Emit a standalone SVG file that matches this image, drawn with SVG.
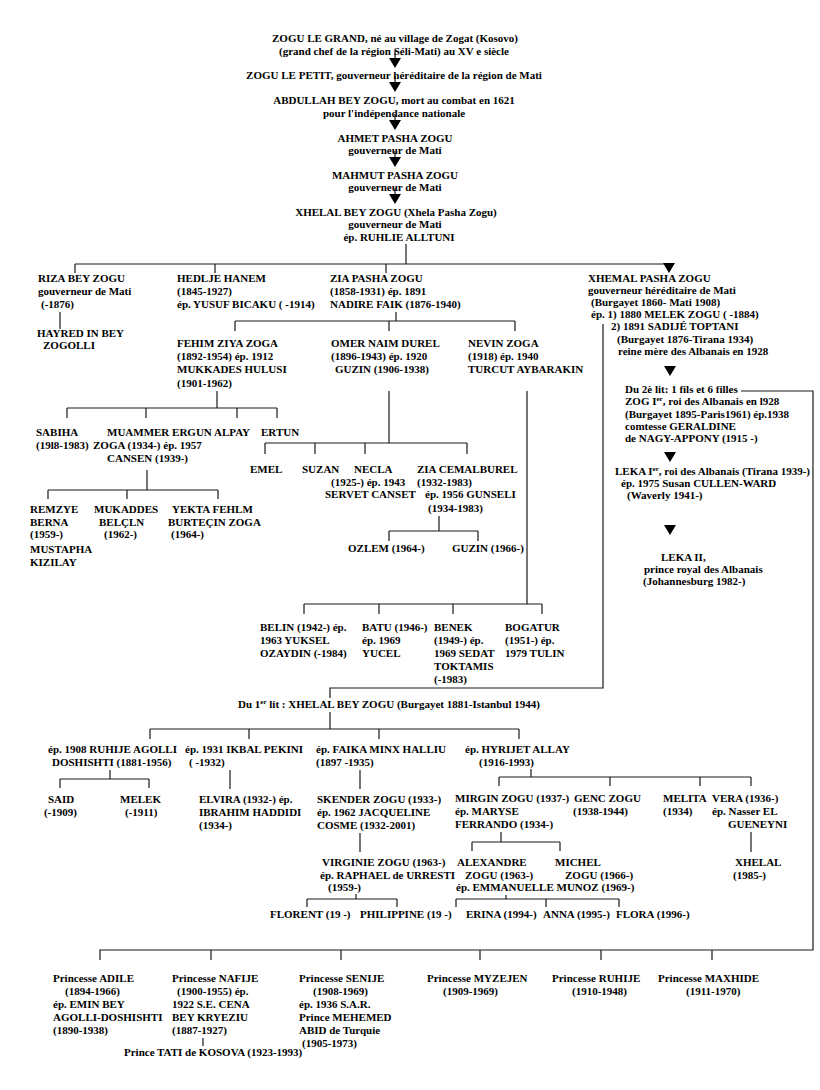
<svg xmlns="http://www.w3.org/2000/svg" width="820" height="1090" viewBox="0 0 820 1090" xml:space="preserve">
<style>
.t{font-family:"Liberation Serif","Times New Roman",serif;font-weight:bold;font-size:11px;fill:#000;white-space:pre}
.m{text-anchor:middle}
.c{stroke:#1a1a1a;stroke-width:1.2;fill:none}
.sup{font-size:7px}
</style>
<defs>
<path id="tri" d="M-6,0 L6,0 L0,10 Z" fill="#000" stroke="none"/>
</defs>
<rect width="820" height="1090" fill="#fff"/>
<g id="connectors" class="c">
<path d="M395,51 V58 M395,76 V82 M395,114 V120 M395,151 V157 M395,188 V194"/>
<use href="#tri" x="395" y="58"/>
<use href="#tri" x="395" y="82"/>
<use href="#tri" x="395" y="120"/>
<use href="#tri" x="395" y="157"/>
<use href="#tri" x="395" y="194"/>
<path d="M406,244 V264 M75,264 H669 M75,264 V273 M215,264 V273 M386,264 V273"/>
<use href="#tri" x="669" y="263"/>
<path d="M60,312 V329"/>
<path d="M396,312 V321 M235,321 H515 M235,321 V331 M389,321 V331 M515,321 V331"/>
<path d="M217,391 V408 M67,408 H277 M67,408 V418 M146,408 V418 M237,408 V418 M277,408 V418"/>
<path d="M147,470 V490 M48,490 H218 M48,490 V499 M127,490 V499 M218,490 V499"/>
<path d="M389,391 V443 M265,443 H467 M265,443 V454 M315,443 V454 M365,443 V454 M467,443 V454"/>
<path d="M439,516 V531 M389,531 H478 M389,531 V541 M478,531 V541"/>
<path d="M527,391 V604 M304,604 H542 M304,604 V614 M379,604 V614 M453,604 V614 M542,604 V614"/>
<path d="M603,324 V688 H330 V698"/>
<use href="#tri" x="670" y="366"/>
<use href="#tri" x="670" y="452"/>
<use href="#tri" x="670" y="525"/>
<path d="M741,391 H813 V950 H100 V960 M211,950 V960 M341,950 V960 M480,950 V960 M601,950 V960 M712,950 V960"/>
<path d="M330,712 V729 M150,729 H519 M150,729 V739 M249,729 V739 M379,729 V739 M519,729 V739"/>
<path d="M110,770 V779 M60,779 H149 M60,779 V788 M149,779 V788"/>
<path d="M230,770 V789"/>
<path d="M360,770 V789"/>
<path d="M531,769 V777 M499,777 H751 M499,777 V786 M610,777 V786 M700,777 V786 M751,777 V786"/>
<path d="M360,833 V852"/>
<path d="M501,832 V842 M472,842 H560 M472,842 V851 M560,842 V851"/>
<path d="M751,832 V852"/>
<path d="M356,894 V899 M307,899 H397 M307,899 V907 M397,899 V907"/>
<path d="M506,895 V899 M456,899 H619 M456,899 V907 M546,899 V907 M619,899 V907"/>
<path d="M203,1038 V1046"/>
</g>
<g id="n-zogu-grand" class="t m">
<text x="395" y="42">ZOGU LE GRAND, né au village de Zogat (Kosovo)</text>
<text x="394" y="55">(grand chef de la région Séli-Mati) au XV e siècle</text>
</g>
<g id="n-zogu-petit" class="t m"><text x="394" y="79">ZOGU LE PETIT, gouverneur héréditaire de la région de Mati</text></g>
<g id="n-abdullah" class="t m">
<text x="394" y="104">ABDULLAH BEY ZOGU, mort au combat en 1621</text>
<text x="394" y="117">pour l'indépendance nationale</text>
</g>
<g id="n-ahmet" class="t m">
<text x="395" y="142">AHMET PASHA ZOGU</text>
<text x="395" y="154">gouverneur de Mati</text>
</g>
<g id="n-mahmut" class="t m">
<text x="395" y="179">MAHMUT PASHA ZOGU</text>
<text x="395" y="191">gouverneur de Mati</text>
</g>
<g id="n-xhelal-pasha" class="t m">
<text x="396" y="216">XHELAL BEY ZOGU (Xhela Pasha Zogu)</text>
<text x="395" y="228">gouverneur de Mati</text>
<text x="399" y="241">ép. RUHLIE ALLTUNI</text>
</g>
<g id="n-riza" class="t">
<text x="38" y="282">RIZA BEY ZOGU</text>
<text x="38" y="295">gouverneur de Mati</text>
<text x="41" y="308">(-1876)</text>
</g>
<g id="n-hayredin" class="t">
<text x="37" y="337">HAYRED IN BEY</text>
<text x="43" y="349">ZOGOLLI</text>
</g>
<g id="n-hedlje" class="t">
<text x="177" y="282">HEDLJE HANEM</text>
<text x="177" y="295">(1845-1927)</text>
<text x="177" y="308">ép. YUSUF BICAKU ( -1914)</text>
</g>
<g id="n-zia-pasha" class="t">
<text x="330" y="282">ZIA PASHA ZOGU</text>
<text x="330" y="295">(1858-1931) ép. 1891</text>
<text x="330" y="308">NADIRE FAIK (1876-1940)</text>
</g>
<g id="n-xhemal" class="t">
<text x="588" y="282">XHEMAL PASHA ZOGU</text>
<text x="588" y="294">gouverneur héréditaire de Mati</text>
<text x="591" y="306">(Burgayet 1860- Mati 1908)</text>
<text x="591" y="318">ép. 1) 1880 MELEK ZOGU ( -1884)</text>
<text x="611" y="330">2) 1891 SADIJÉ TOPTANI</text>
<text x="617" y="343">(Burgayet 1876-Tirana 1934)</text>
<text x="618" y="355">reine mère des Albanais en 1928</text>
</g>
<g id="n-du-2e-lit" class="t"><text x="625" y="393">Du 2è lit: 1 fils et 6 filles</text></g>
<g id="n-zog" class="t">
<text x="625" y="405">ZOG I<tspan class="sup" dy="-4">er</tspan><tspan dy="4">,  roi des Albanais en l928</tspan></text>
<text x="625" y="418">(Burgayet 1895-Paris1961) ép.1938</text>
<text x="625" y="430">comtesse GERALDINE</text>
<text x="625" y="442">de NAGY-APPONY  (1915 -)</text>
</g>
<g id="n-leka1" class="t">
<text x="615" y="475">LEKA I<tspan class="sup" dy="-4">er</tspan><tspan dy="4">, roi des Albanais (Tirana 1939-)</tspan></text>
<text x="621" y="487">ép. 1975  Susan CULLEN-WARD</text>
<text x="627" y="499">(Waverly 1941-)</text>
</g>
<g id="n-leka2" class="t">
<text x="661" y="561">LEKA II,</text>
<text x="644" y="573">prince royal des Albanais</text>
<text x="643" y="585">(Johannesburg 1982-)</text>
</g>
<g id="n-fehim" class="t">
<text x="177" y="347">FEHIM ZIYA ZOGA</text>
<text x="177" y="360">(1892-1954) ép. 1912</text>
<text x="177" y="373">MUKKADES HULUSI</text>
<text x="177" y="387">(1901-1962)</text>
</g>
<g id="n-omer" class="t">
<text x="331" y="347">OMER NAIM DUREL</text>
<text x="331" y="360">(1896-1943) ép. 1920</text>
<text x="335" y="373">GUZIN (1906-1938)</text>
</g>
<g id="n-nevin" class="t">
<text x="468" y="347">NEVIN ZOGA</text>
<text x="468" y="360">(1918) ép. 1940</text>
<text x="468" y="373">TURCUT AYBARAKIN</text>
</g>
<g id="n-sabiha" class="t">
<text x="36" y="436">SABIHA</text>
<text x="36" y="449">(19l8-1983)</text>
</g>
<g id="n-muammer" class="t">
<text x="107" y="436">MUAMMER ERGUN</text>
<text x="93" y="449">ZOGA (1934-) ép. 1957</text>
<text x="107" y="462">CANSEN (1939-)</text>
</g>
<g id="n-alpay" class="t"><text x="214" y="436">ALPAY</text></g>
<g id="n-ertun" class="t"><text x="261" y="436">ERTUN</text></g>
<g id="n-remzye" class="t">
<text x="30" y="513">REMZYE</text>
<text x="30" y="526">BERNA</text>
<text x="30" y="538">(1959-)</text>
<text x="30" y="553">MUSTAPHA</text>
<text x="30" y="566">KIZILAY</text>
</g>
<g id="n-mukaddes" class="t">
<text x="94" y="513">MUKADDES</text>
<text x="99" y="526">BELÇLN</text>
<text x="104" y="538">(1962-)</text>
</g>
<g id="n-yekta" class="t">
<text x="172" y="513">YEKTA FEHLM</text>
<text x="168" y="526">BURTEÇIN ZOGA</text>
<text x="171" y="538">(1964-)</text>
</g>
<g id="n-emel" class="t"><text x="250" y="473">EMEL</text></g>
<g id="n-suzan" class="t"><text x="302" y="473">SUZAN</text></g>
<g id="n-necla" class="t">
<text x="354" y="473">NECLA</text>
<text x="331" y="486">(1925-) ép. 1943</text>
<text x="325" y="498">SERVET CANSET</text>
</g>
<g id="n-zia-cemal" class="t">
<text x="417" y="473">ZIA CEMALBUREL</text>
<text x="417" y="486">(1932-1983)</text>
<text x="425" y="498">ép. 1956 GUNSELI</text>
<text x="428" y="512">(1934-1983)</text>
</g>
<g id="n-ozlem" class="t"><text x="348" y="552">OZLEM (1964-)</text></g>
<g id="n-guzin" class="t"><text x="452" y="552">GUZIN (1966-)</text></g>
<g id="n-belin" class="t">
<text x="260" y="631">BELIN (1942-) ép.</text>
<text x="260" y="644">1963 YUKSEL</text>
<text x="260" y="657">OZAYDIN (-1984)</text>
</g>
<g id="n-batu" class="t">
<text x="362" y="631">BATU (1946-)</text>
<text x="362" y="644">ép. 1969</text>
<text x="362" y="657">YUCEL</text>
</g>
<g id="n-benek" class="t">
<text x="434" y="631">BENEK</text>
<text x="434" y="644">(1949-) ép.</text>
<text x="434" y="657">1969 SEDAT</text>
<text x="434" y="670">TOKTAMIS</text>
<text x="434" y="683">(-1983)</text>
</g>
<g id="n-bogatur" class="t">
<text x="505" y="631">BOGATUR</text>
<text x="505" y="644">(1951-) ép.</text>
<text x="505" y="657">1979 TULIN</text>
</g>
<g id="n-du-1er-lit" class="t"><text x="238" y="708">Du 1<tspan class="sup" dy="-4">er</tspan><tspan dy="4"> lit : XHELAL BEY ZOGU (Burgayet 1881-Istanbul 1944)</tspan></text></g>
<g id="n-ruhije-agolli" class="t">
<text x="48" y="753">ép. 1908 RUHIJE AGOLLI</text>
<text x="52" y="766">DOSHISHTI (1881-1956)</text>
</g>
<g id="n-ikbal" class="t">
<text x="185" y="753">ép. 1931 IKBAL PEKINI</text>
<text x="189" y="766">( -1932)</text>
</g>
<g id="n-faika" class="t">
<text x="316" y="753">ép. FAIKA MINX HALLIU</text>
<text x="316" y="766">(1897 -1935)</text>
</g>
<g id="n-hyrijet" class="t">
<text x="465" y="753">ép. HYRIJET ALLAY</text>
<text x="479" y="766">(1916-1993)</text>
</g>
<g id="n-said" class="t">
<text x="48" y="803">SAID</text>
<text x="44" y="816">(-1909)</text>
</g>
<g id="n-melek" class="t">
<text x="120" y="803">MELEK</text>
<text x="125" y="816">(-1911)</text>
</g>
<g id="n-elvira" class="t">
<text x="199" y="803">ELVIRA (1932-) ép.</text>
<text x="199" y="816">IBRAHIM HADDIDI</text>
<text x="199" y="829">(1934-)</text>
</g>
<g id="n-skender" class="t">
<text x="317" y="803">SKENDER ZOGU (1933-)</text>
<text x="317" y="816">ép. 1962 JACQUELINE</text>
<text x="317" y="829">COSME (1932-2001)</text>
</g>
<g id="n-mirgin" class="t">
<text x="455" y="802">MIRGIN ZOGU (1937-)</text>
<text x="455" y="815">ép. MARYSE</text>
<text x="455" y="828">FERRANDO (1934-)</text>
</g>
<g id="n-genc" class="t">
<text x="574" y="802">GENC ZOGU</text>
<text x="573" y="815">(1938-1944)</text>
</g>
<g id="n-melita" class="t">
<text x="663" y="802">MELITA</text>
<text x="663" y="815">(1934)</text>
</g>
<g id="n-vera" class="t">
<text x="712" y="802">VERA (1936-)</text>
<text x="712" y="815">ép. Nasser EL</text>
<text x="728" y="828">GUENEYNI</text>
</g>
<g id="n-xhelal-1985" class="t">
<text x="735" y="866">XHELAL</text>
<text x="733" y="879">(1985-)</text>
</g>
<g id="n-virginie" class="t">
<text x="322" y="866">VIRGINIE ZOGU (1963-)</text>
<text x="320" y="879">ép. RAPHAEL de URRESTI</text>
<text x="328" y="891">(1959-)</text>
</g>
<g id="n-alexandre" class="t">
<text x="457" y="866">ALEXANDRE</text>
<text x="465" y="879">ZOGU (1963-)</text>
<text x="456" y="891">ép. EMMANUELLE MUNOZ (1969-)</text>
</g>
<g id="n-michel" class="t">
<text x="555" y="866">MICHEL</text>
<text x="565" y="879">ZOGU (1966-)</text>
</g>
<g id="n-florent" class="t"><text x="270" y="918">FLORENT  (19  -)</text></g>
<g id="n-philippine" class="t"><text x="360" y="918">PHILIPPINE (19  -)</text></g>
<g id="n-erina" class="t"><text x="466" y="918">ERINA (1994-)</text></g>
<g id="n-anna" class="t"><text x="543" y="918">ANNA (1995-)</text></g>
<g id="n-flora" class="t"><text x="616" y="918">FLORA (1996-)</text></g>
<g id="n-adile" class="t">
<text x="53" y="982">Princesse ADILE</text>
<text x="65" y="995">(1894-1966)</text>
<text x="53" y="1008">ép. EMIN BEY</text>
<text x="53" y="1021">AGOLLI-DOSHISHTI</text>
<text x="53" y="1034">(1890-1938)</text>
</g>
<g id="n-nafije" class="t">
<text x="172" y="982">Princesse NAFIJE</text>
<text x="177" y="995">(1900-1955) ép.</text>
<text x="172" y="1008">1922 S.E. CENA</text>
<text x="172" y="1021">BEY KRYEZIU</text>
<text x="172" y="1034">(1887-1927)</text>
</g>
<g id="n-tati" class="t"><text x="124" y="1056">Prince TATI de KOSOVA (1923-1993)</text></g>
<g id="n-senije" class="t">
<text x="299" y="982">Princesse SENIJE</text>
<text x="313" y="995">(1908-1969)</text>
<text x="299" y="1008">ép. 1936 S.A.R.</text>
<text x="299" y="1021">Prince MEHEMED</text>
<text x="299" y="1034">ABID de Turquie</text>
<text x="302" y="1047">(1905-1973)</text>
</g>
<g id="n-myzejen" class="t">
<text x="427" y="982">Princesse MYZEJEN</text>
<text x="443" y="995">(1909-1969)</text>
</g>
<g id="n-ruhije" class="t">
<text x="552" y="982">Princesse RUHIJE</text>
<text x="572" y="995">(1910-1948)</text>
</g>
<g id="n-maxhide" class="t">
<text x="658" y="982">Princesse MAXHIDE</text>
<text x="686" y="995">(1911-1970)</text>
</g>
</svg>
